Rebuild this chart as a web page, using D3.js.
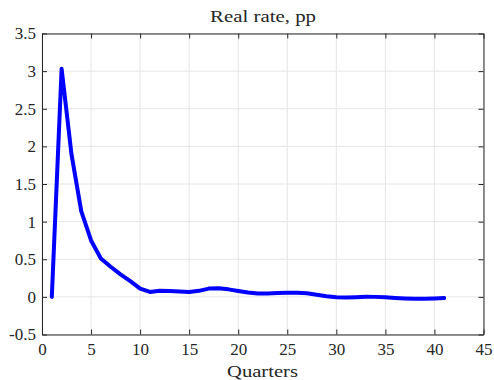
<!DOCTYPE html>
<html>
<head>
<meta charset="utf-8">
<script src="https://cdn.jsdelivr.net/npm/d3@7"></script>
<style>
  body { margin: 0; background: #fff; }
  svg text { font-family: "Liberation Serif", "DejaVu Serif", serif; fill: #262626; }
</style>
</head>
<body>
<div id="chart"></div>
<script>
// Impulse response of the real rate, percentage points, by quarter
const quarters = d3.range(1, 42);
const realRate = [
  0.00, 3.03, 1.90, 1.14, 0.75, 0.51, 0.40, 0.30, 0.21, 0.11,
  0.065, 0.08, 0.078, 0.072, 0.066, 0.08, 0.11, 0.115, 0.10, 0.078,
  0.058, 0.045, 0.046, 0.05, 0.054, 0.054, 0.047, 0.028, 0.008, -0.006,
  -0.008, -0.004, 0.002, 0.000, -0.006, -0.014, -0.02, -0.024, -0.024, -0.02,
  -0.015
];
const xTicks = d3.range(0, 46, 5);
const yTicks = d3.range(-0.5, 3.51, 0.5);

const width = 494, height = 380;
const margin = { top: 33.5, right: 10.5, bottom: 45.5, left: 42 };
const innerW = width - margin.left - margin.right;
const innerH = height - margin.top - margin.bottom;

const svg = d3.select('#chart')
  .append('svg')
  .attr('width', width)
  .attr('height', height);

const g = svg.append('g')
  .attr('transform', `translate(${margin.left},${margin.top})`);

const x = d3.scaleLinear().domain([0, 45]).range([0, innerW]);
const y = d3.scaleLinear().domain([-0.5, 3.5]).range([innerH, 0]);

// Grid
g.append('g')
  .selectAll('line')
  .data(xTicks)
  .enter()
  .append('line')
  .attr('x1', d => x(d)).attr('x2', d => x(d))
  .attr('y1', 0).attr('y2', innerH)
  .attr('stroke', '#e6e6e6')
  .attr('stroke-width', 1);

g.append('g')
  .selectAll('line')
  .data(yTicks)
  .enter()
  .append('line')
  .attr('x1', 0).attr('x2', innerW)
  .attr('y1', d => y(d)).attr('y2', d => y(d))
  .attr('stroke', '#e6e6e6')
  .attr('stroke-width', 1);

// Axes with inward ticks on all four sides
const fmt = d => String(+d.toFixed(1));
const styleAxis = sel => {
  sel.select('.domain').attr('stroke', '#262626');
  sel.selectAll('.tick line').attr('stroke', '#262626');
  sel.selectAll('.tick text').style('font-size', '17px').attr('fill', '#262626');
};

g.append('g')
  .attr('transform', `translate(0,${innerH})`)
  .call(d3.axisBottom(x).tickValues(xTicks).tickFormat(fmt).tickSizeInner(-5).tickSizeOuter(0).tickPadding(8.5))
  .call(styleAxis);

g.append('g')
  .call(d3.axisLeft(y).tickValues(yTicks).tickFormat(fmt).tickSizeInner(-5).tickSizeOuter(0).tickPadding(6))
  .call(styleAxis);

g.append('g')
  .call(d3.axisTop(x).tickValues(xTicks).tickFormat('').tickSizeInner(-5).tickSizeOuter(0))
  .call(styleAxis);

g.append('g')
  .attr('transform', `translate(${innerW},0)`)
  .call(d3.axisRight(y).tickValues(yTicks).tickFormat('').tickSizeInner(-5).tickSizeOuter(0))
  .call(styleAxis);

// Series line
const line = d3.line()
  .x((d, i) => x(quarters[i]))
  .y(d => y(d));

g.append('path')
  .datum(realRate)
  .attr('fill', 'none')
  .attr('stroke', '#0000ff')
  .attr('stroke-width', 4)
  .attr('stroke-linejoin', 'round')
  .attr('stroke-linecap', 'round')
  .attr('d', line);

// Title and axis label, stretched a little to the wider serif face
svg.append('text')
  .attr('x', 263)
  .attr('y', 21.7)
  .attr('text-anchor', 'middle')
  .attr('textLength', 106)
  .attr('lengthAdjust', 'spacingAndGlyphs')
  .style('font-size', '17.5px')
  .text('Real rate, pp');

svg.append('text')
  .attr('x', 262.5)
  .attr('y', 377)
  .attr('text-anchor', 'middle')
  .attr('textLength', 71)
  .attr('lengthAdjust', 'spacingAndGlyphs')
  .style('font-size', '17.5px')
  .text('Quarters');
</script>
</body>
</html>
